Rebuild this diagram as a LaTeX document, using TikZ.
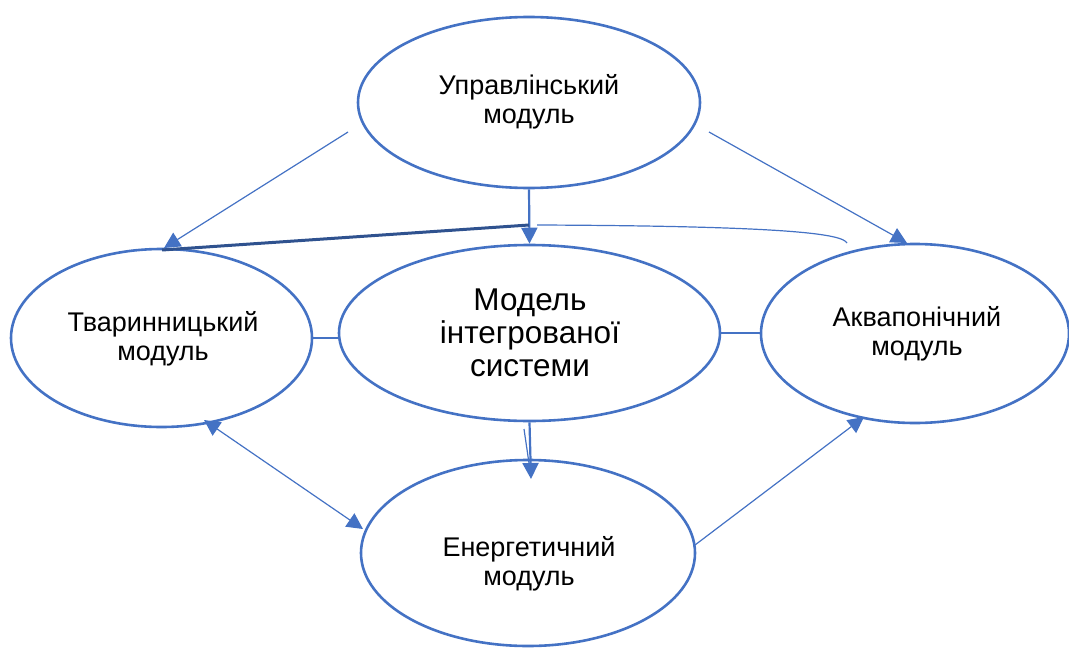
\documentclass[tikz,border=0pt]{standalone}
\usepackage{fontspec}
\setmainfont{Liberation Sans}
\usetikzlibrary{shapes.geometric,arrows.meta}
\definecolor{ob}{HTML}{4472C4}
\definecolor{dk}{HTML}{2F528F}
\begin{document}
\begin{tikzpicture}[x=1pt,y=-1pt,
  mod/.style={ellipse, draw=ob, line width=2.6pt, inner sep=0pt, align=center},
  lbl/.style={align=center, font=\fontsize{27}{29}\selectfont},
  big/.style={align=center, font=\fontsize{31.5}{33}\selectfont},
  thinl/.style={draw=ob, line width=1.2pt},
  midl/.style={draw=ob, line width=2.2pt},
  tip/.style={-{Triangle[length=16pt,width=16pt]}},
  tips/.style={{Triangle[length=16pt,width=16pt]}-{Triangle[length=16pt,width=16pt]}}]
\useasboundingbox (0,0) rectangle (1069,648);
% ellipses
\node[mod, minimum width=342pt, minimum height=171pt] (upr) at (529,102.5) {};
\node[mod, minimum width=301pt, minimum height=178pt] (tva) at (161.5,338) {};
\node[mod, minimum width=381pt, minimum height=176pt] (cen) at (529.5,333) {};
\node[mod, minimum width=308pt, minimum height=179pt] (akv) at (915,333.5) {};
\node[mod, minimum width=334pt, minimum height=186pt] (ene) at (528,553) {};
% labels
\node[lbl] (uprt) at (529,102) {Управлінський\\модуль};
\node[lbl] (tvat) at (163,339) {Тваринницький\\модуль};
\node[big] (cent) at (530,333) {Модель\\інтегрованої\\системи};
\node[lbl] (akvt) at (917,334) {Аквапонічний\\модуль};
\node[lbl] (enet) at (529,564) {Енергетичний\\модуль};
% helper coordinates
\coordinate (J) at (529,225);
\coordinate (Jr) at (537,225);
\coordinate (cr) at (847,243);
\coordinate (tl) at (348,132);
\coordinate (tlE) at (164,248);
\coordinate (tr) at (709,132);
\coordinate (trE) at (907,243);
\coordinate (dkE) at (162,250);
\coordinate (sl1) at (524,429);
\coordinate (sl2) at (530,470);
\coordinate (cb) at (531,479);
\coordinate (da1) at (204,420);
\coordinate (da2) at (363,529);
\coordinate (ba1) at (695,545);
\coordinate (ba2) at (864,417);
% connectors
\draw[midl, tip] (upr.south) -- (cen.north);
\draw[draw=dk, line width=3pt] (J) -- (dkE);
\draw[thinl] (Jr) .. controls (790,226) and (842,234) .. (cr);
\draw[thinl, tip] (tl) -- (tlE);
\draw[thinl, tip] (tr) -- (trE);
\draw[midl] (tva.east) -- (tva.east -| cen.west);
\draw[midl] (cen.east) -- (cen.east -| akv.west);
\draw[midl, tip] (cen.south) -- (cb);
\draw[thinl] (sl1) -- (sl2);
\draw[thinl, tips] (da1) -- (da2);
\draw[thinl, tip] (ba1) -- (ba2);
\end{tikzpicture}
\end{document}
